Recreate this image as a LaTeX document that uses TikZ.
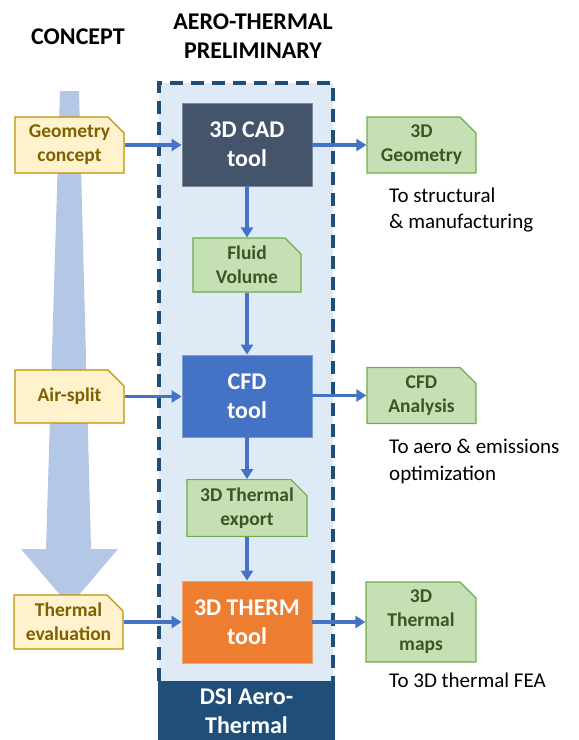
\documentclass[tikz,border=0pt]{standalone}
\usepackage{fontspec}
\setmainfont{Carlito}
\usetikzlibrary{shapes.misc,arrows.meta}
\definecolor{cadfill}{HTML}{44546A}
\definecolor{cfdfill}{HTML}{4472C4}
\definecolor{thermfill}{HTML}{ED7D31}
\definecolor{dsifill}{HTML}{1F4E79}
\definecolor{panelfill}{HTML}{DEEBF7}
\definecolor{flowblue}{HTML}{4472C4}
\definecolor{bigarrow}{HTML}{B4C7E7}
\definecolor{inputfill}{HTML}{FFF2CC}
\definecolor{inputline}{HTML}{BF9000}
\definecolor{inputtext}{HTML}{7F6000}
\definecolor{datafill}{HTML}{C5E0B4}
\definecolor{dataline}{HTML}{70AD47}
\definecolor{datatext}{HTML}{385723}
\begin{document}
\begin{tikzpicture}[x=1pt,y=-1pt,
  toolbox/.style={rectangle, inner sep=0pt, minimum width=130pt, minimum height=82pt,
    text=white, align=center, line width=0.8pt,
    font=\bfseries\fontsize{24}{29}\selectfont},
  docbox/.style={chamfered rectangle, chamfered rectangle corners=north east,
    chamfered rectangle xsep=8pt, chamfered rectangle ysep=8pt,
    inner sep=0pt, minimum width=109pt, minimum height=54pt, align=center,
    line width=1.2pt, font=\bfseries\fontsize{19.5}{24}\selectfont},
  inputdoc/.style={docbox, fill=inputfill, draw=inputline, text=inputtext},
  datadoc/.style={docbox, fill=datafill, draw=dataline, text=datatext},
  note/.style={anchor=west, align=left, inner sep=0pt,
    font=\fontsize{21}{26.5}\selectfont},
  heading/.style={align=center, inner sep=0pt,
    font=\bfseries\fontsize{24}{29}\selectfont},
  flow/.style={draw=flowblue, line width=3.2pt, -{Triangle[length=10pt,width=12pt]}},
  dashbox/.style={draw=dsifill, line width=3.3pt, dash pattern=on 13pt off 8pt}
]
\useasboundingbox (0,0) rectangle (579,740);

% column headings
\node[heading] (hconcept) at (78,37) {CONCEPT};
\node[heading] (haero) at (253,36) {AERO-THERMAL\\PRELIMINARY};

% preliminary design panel
\fill[panelfill] (159,83) rectangle (333,681);
\draw[dashbox] (159,681) -- (159,83) -- (333,83) -- (333,681);
\fill[dsifill] (158,681) rectangle (335,745);
\node[heading, text=white] (dsi) at (246.5,711.5) {DSI Aero-\\Thermal};

% concept progression arrow
\fill[bigarrow] (60,91) -- (79,91) -- (91,549) -- (118,549) -- (69.5,606)
  -- (21,549) -- (46,549) -- cycle;

% tools
\node[toolbox, fill=cadfill, draw=cadfill!70!white, minimum height=83pt] (cad) at (247,144.5) {3D CAD\\tool};
\node[toolbox, fill=cfdfill, draw=cfdfill!70!white] (cfd) at (247,396) {CFD\\tool};
\node[toolbox, fill=thermfill, draw=thermfill!70!white] (therm) at (247,622) {3D THERM\\tool};

% inputs
\node[inputdoc] (geo) at (69.5,145) {Geometry\\concept};
\node[inputdoc, minimum height=53pt] (air) at (69.5,396.5) {Air-split};
\node[inputdoc] (theval) at (68.5,622) {Thermal\\evaluation};

% intermediate and output data
\node[datadoc, minimum width=108pt] (fluid) at (247,265) {Fluid\\Volume};
\node[datadoc, minimum width=120pt, minimum height=52pt] (export) at (247,508) {3D Thermal\\export};
\node[datadoc] (geo3d) at (421.5,145) {3D\\Geometry};
\node[datadoc, minimum height=55pt] (cfdan) at (421.5,395.5) {CFD\\Analysis};
\node[datadoc, minimum width=110pt, minimum height=78pt] (maps) at (421,622) {3D\\Thermal\\maps};

% destinations
\node[note] (n1) at (389,210) {To structural\\\& manufacturing};
\node[note] (n2) at (389,461.5) {To aero \& emissions\\optimization};
\node[note] (n3) at (389,680) {To 3D thermal FEA};

% flows
\draw[flow] (geo.east) -- (cad.west |- geo.east);
\draw[flow] (cad.east |- geo3d.west) -- (geo3d.west);
\draw[flow] (cad.south) -- (fluid.north);
\draw[flow] (fluid.south) -- (cfd.north);
\draw[flow] (air.east) -- (cfd.west |- air.east);
\draw[flow] (cfd.east |- cfdan.west) -- (cfdan.west);
\draw[flow] (cfd.south) -- (export.north);
\draw[flow] (export.south) -- (therm.north);
\draw[flow] (theval.east) -- (therm.west |- theval.east);
\draw[flow] (therm.east |- maps.west) -- (maps.west);
\end{tikzpicture}
\end{document}
